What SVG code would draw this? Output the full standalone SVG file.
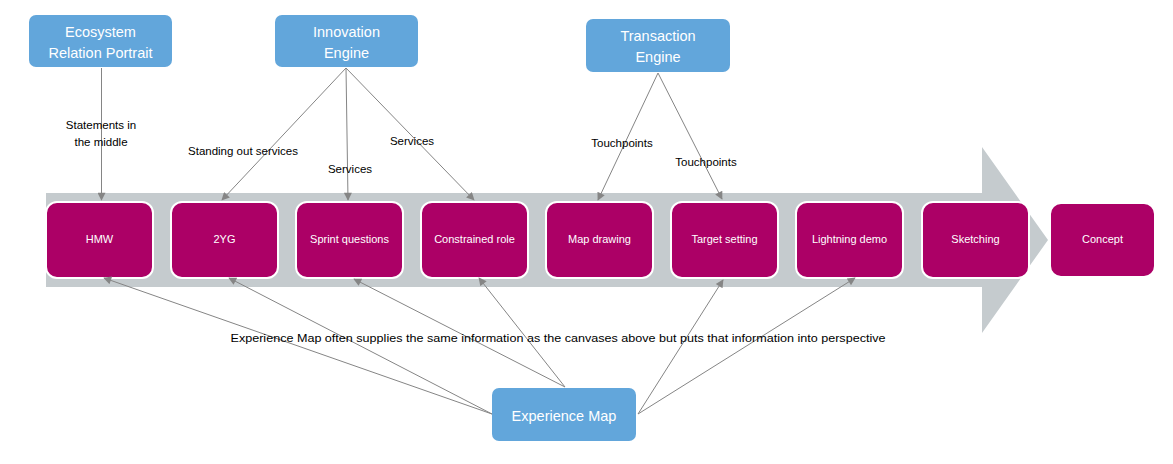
<svg xmlns="http://www.w3.org/2000/svg" width="1173" height="464" viewBox="0 0 1173 464">
<style>
.blue{fill:#62A6DB;}
.bt{font-family:"Liberation Sans",Arial,sans-serif;font-size:14.5px;fill:#ffffff;text-anchor:middle;}
.step{fill:#AC0066;stroke:#ffffff;stroke-width:2;}
.st{font-family:"Liberation Sans",Arial,sans-serif;font-size:11px;fill:#ffffff;text-anchor:middle;}
.lbl{font-family:"Liberation Sans",Arial,sans-serif;font-size:11.5px;fill:#000000;text-anchor:middle;}
.con{stroke:#858585;stroke-width:1;fill:none;marker-end:url(#ah);}
</style>
<defs>
<marker id="ah" viewBox="0 0 10 10" refX="9" refY="5" markerWidth="10" markerHeight="8" markerUnits="userSpaceOnUse" orient="auto">
<path d="M0,0 L10,5 L0,10 z" fill="#858585"/>
</marker>
</defs>
<rect width="1173" height="464" fill="#ffffff"/>
<polygon id="band" points="46,193 982,193 982,147 1048,240 982,333 982,287 46,287" fill="#C5CBCE"/>

<g id="node-hmw"><rect class="step" x="46" y="202" width="107" height="76" rx="11"/><text class="st" x="99.5" y="243">HMW</text></g>
<g id="node-2yg"><rect class="step" x="171" y="202" width="107" height="76" rx="11"/><text class="st" x="224.5" y="243">2YG</text></g>
<g id="node-sprint"><rect class="step" x="296" y="202" width="107" height="76" rx="11"/><text class="st" x="349.5" y="243">Sprint questions</text></g>
<g id="node-constrained"><rect class="step" x="421" y="202" width="107" height="76" rx="11"/><text class="st" x="474.5" y="243">Constrained role</text></g>
<g id="node-map"><rect class="step" x="546" y="202" width="107" height="76" rx="11"/><text class="st" x="599.5" y="243">Map drawing</text></g>
<g id="node-target"><rect class="step" x="671" y="202" width="107" height="76" rx="11"/><text class="st" x="724.5" y="243">Target setting</text></g>
<g id="node-lightning"><rect class="step" x="796" y="202" width="107" height="76" rx="11"/><text class="st" x="849.5" y="243">Lightning demo</text></g>
<g id="node-sketching"><rect class="step" x="922" y="202" width="107" height="76" rx="11"/><text class="st" x="975.5" y="243">Sketching</text></g>
<g id="node-concept"><rect class="step" x="1050" y="203" width="105" height="74" rx="11" stroke="none"/><text class="st" x="1102.5" y="243">Concept</text></g>

<g id="node-ecosystem"><rect class="blue" x="29" y="15" width="143" height="52" rx="7"/><text class="bt" x="100.5" y="37">Ecosystem</text><text class="bt" x="100.5" y="58">Relation Portrait</text></g>
<g id="node-innovation"><rect class="blue" x="275" y="15" width="143" height="52" rx="7"/><text class="bt" x="346.5" y="37">Innovation</text><text class="bt" x="346.5" y="58">Engine</text></g>
<g id="node-transaction"><rect class="blue" x="586" y="19" width="144" height="53" rx="7"/><text class="bt" x="658" y="41">Transaction</text><text class="bt" x="658" y="62">Engine</text></g>
<g id="node-experience"><rect class="blue" x="492" y="388" width="144" height="53" rx="7"/><text class="bt" x="564" y="421" font-size="15.5">Experience Map</text></g>

<g id="connectors">
<line class="con" x1="101.5" y1="68" x2="101.5" y2="200"/>
<line class="con" x1="346" y1="68" x2="222" y2="200"/>
<line class="con" x1="346" y1="68" x2="348" y2="200"/>
<line class="con" x1="346" y1="68" x2="474" y2="200"/>
<line class="con" x1="658" y1="73" x2="598" y2="200"/>
<line class="con" x1="658" y1="73" x2="722" y2="199"/>
<line class="con" x1="492" y1="414" x2="104" y2="278"/>
<line class="con" x1="492" y1="414" x2="229" y2="278"/>
<line class="con" x1="565" y1="387" x2="354" y2="279"/>
<line class="con" x1="565" y1="387" x2="479" y2="278"/>
<line class="con" x1="638" y1="414" x2="723" y2="280"/>
<line class="con" x1="638" y1="414" x2="855" y2="278"/>
</g>

<g id="labels">
<text class="lbl" x="101" y="129">Statements in</text>
<text class="lbl" x="101" y="146">the middle</text>
<text class="lbl" x="243" y="155">Standing out services</text>
<text class="lbl" x="350" y="173">Services</text>
<text class="lbl" x="412" y="145">Services</text>
<text class="lbl" x="622" y="147">Touchpoints</text>
<text class="lbl" x="706" y="166">Touchpoints</text>
<text class="lbl" x="558" y="342" textLength="655" lengthAdjust="spacingAndGlyphs">Experience Map often supplies the same information as the canvases above but puts that information into perspective</text>
</g>
</svg>
